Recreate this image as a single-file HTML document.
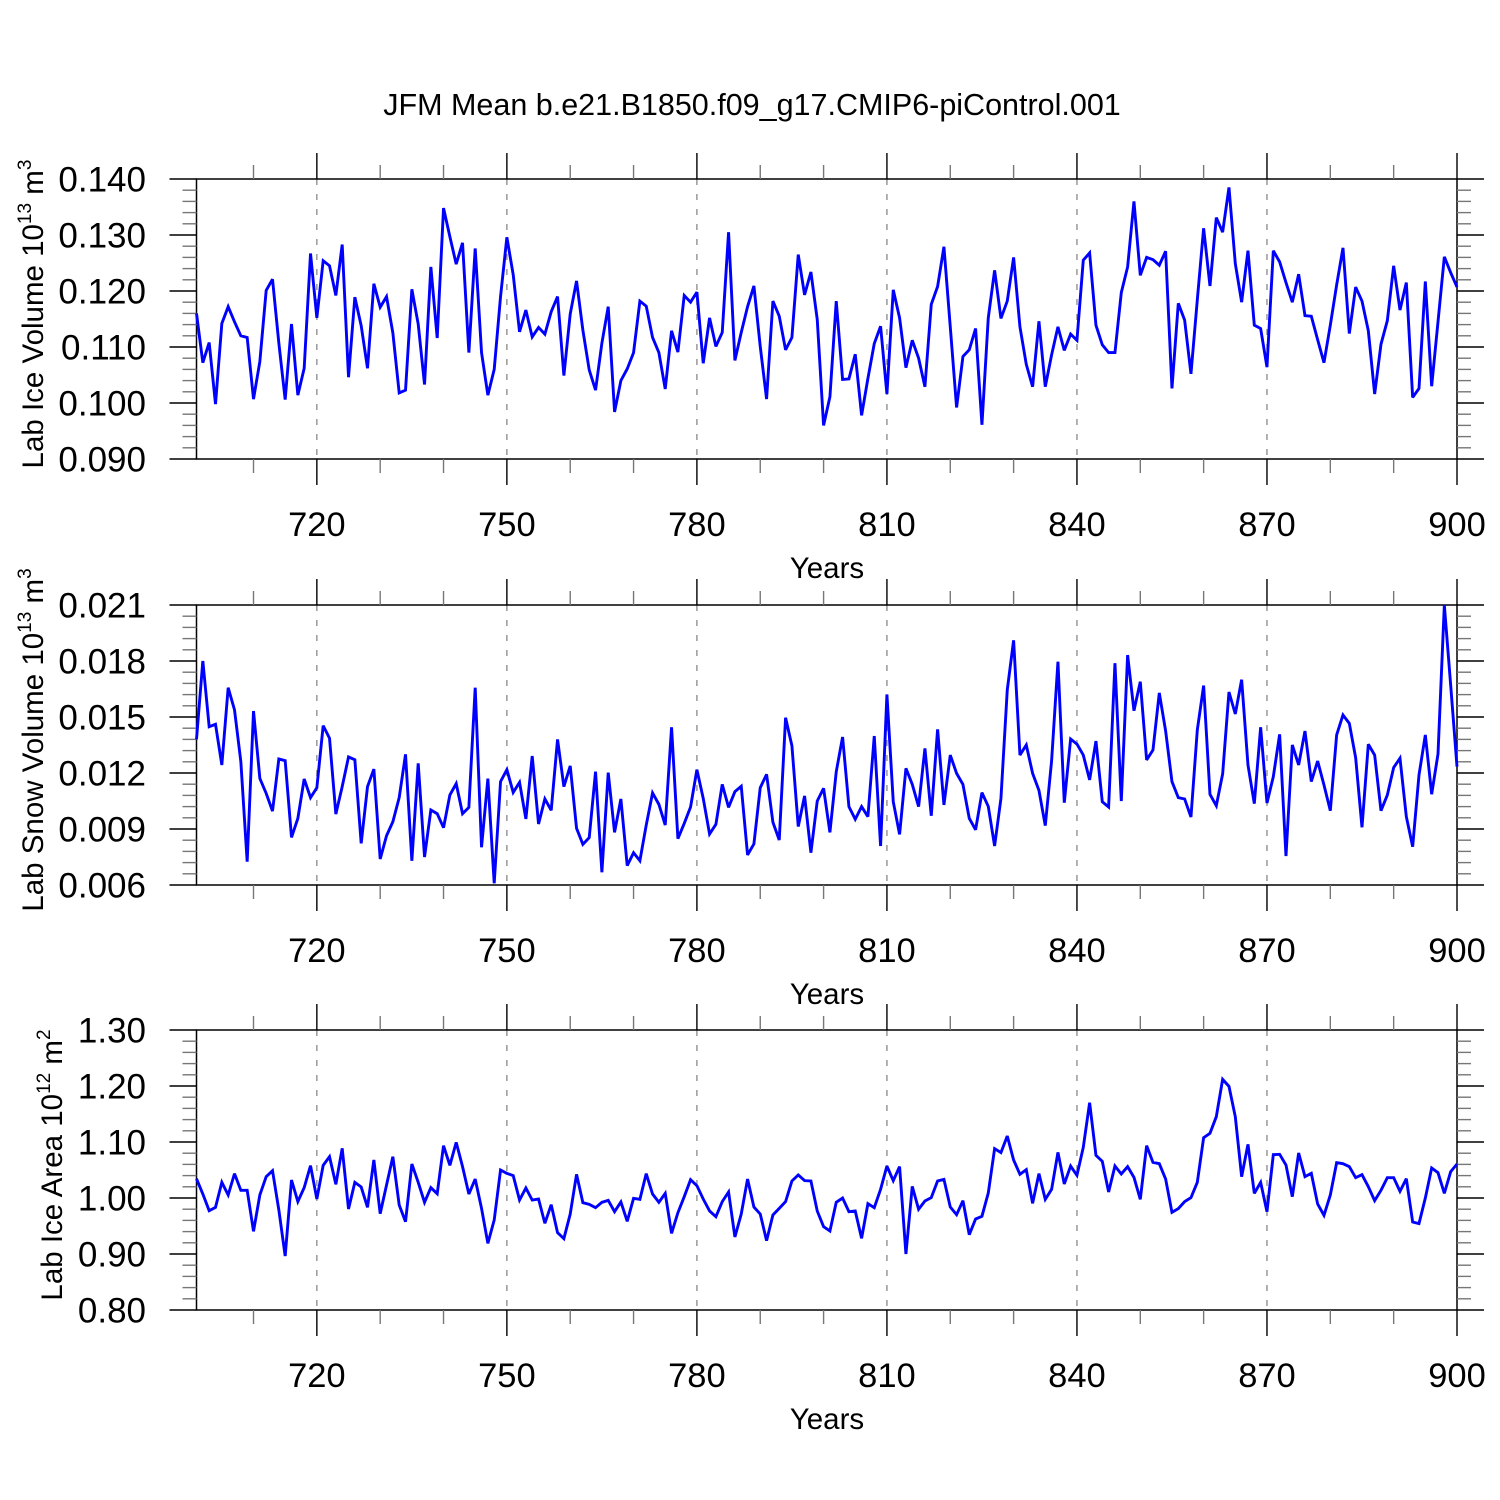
<!DOCTYPE html>
<html><head><meta charset="utf-8"><style>
html,body{margin:0;padding:0;background:#fff;}
svg{display:block;font-family:"Liberation Sans",Arial,sans-serif;}
</style></head><body>
<svg id="chart" width="1500" height="1500" viewBox="0 0 1500 1500" xmlns="http://www.w3.org/2000/svg">
<rect width="1500" height="1500" fill="#fff"/>
<text x="752" y="115" font-size="30.5" text-anchor="middle">JFM Mean b.e21.B1850.f09_g17.CMIP6-piControl.001</text>
</svg>
<script>
const years = [];
for (let y = 701; y <= 900; y++) years.push(y);
const xTickLabels = [720, 750, 780, 810, 840, 870, 900];

const iceVolume = [.116,.1072,.1108,.0998,.1142,.1172,.1145,.1120,.1117,.1007,.1074,.1201,.1221,.1107,.1006,.1141,.1014,.1062,.1267,.1152,
.1254,.1245,.1192,.1283,.1046,.1189,.1138,.1062,.1213,.1171,.1190,.1125,.1018,.1023,.1203,.1141,.1033,.1243,.1116,.1348,
.1297,.1248,.1286,.1090,.1276,.1090,.1014,.1060,.1190,.1296,.1229,.1127,.1166,.1118,.1135,.1123,.1163,.1190,.1049,.1159,
.1218,.1130,.1059,.1023,.1107,.1172,.0984,.1040,.1061,.1090,.1182,.1173,.1117,.1090,.1025,.1129,.1091,.1192,.1180,.1198,
.1071,.1152,.1101,.1126,.1305,.1076,.1126,.1172,.1209,.1101,.1007,.1182,.1155,.1095,.1117,.1265,.1193,.1234,.1149,.0960,
.1011,.1182,.1042,.1043,.1087,.0978,.1044,.1106,.1137,.1016,.1202,.1152,.1063,.1112,.1080,.1029,.1176,.1208,.1279,.1136,
.0992,.1083,.1095,.1133,.0961,.1152,.1237,.1151,.1182,.1260,.1136,.1069,.1029,.1146,.1029,.1086,.1136,.1094,.1123,.1112,
.1255,.1268,.1139,.1104,.1090,.1090,.1197,.1243,.1360,.1228,.1260,.1256,.1246,.1271,.1026,.1178,.1148,.1052,.1184,.1312,
.1209,.1331,.1305,.1385,.1249,.1180,.1272,.1139,.1133,.1064,.1272,.1252,.1215,.1180,.1230,.1156,.1155,.1113,.1072,.1139,
.1211,.1277,.1124,.1207,.1182,.1129,.1016,.1105,.1147,.1245,.1166,.1215,.1010,.1026,.1217,.1030,.1145,.1261,.1233,.1207];

const snowVolume = [.01380,.0180,.01448,.01461,.01243,.01657,.01538,.01261,.00725,.01532,.01171,.01091,.00996,.01275,.01266,.00855,.00957,.01168,.01068,.01121,
.01454,.01386,.00980,.01127,.01286,.01271,.00823,.01127,.01221,.00739,.00864,.00939,.01068,.01300,.00730,.01252,.00750,.01002,.00982,.00907,
.01082,.01143,.00982,.01016,.01657,.00802,.01170,.00609,.01154,.01218,.01096,.01150,.00954,.01291,.00927,.01061,.01000,.01380,.01127,.01238,
.00904,.00818,.00854,.01207,.00668,.01202,.00882,.01061,.00704,.00773,.00730,.00921,.01093,.01032,.00921,.01445,.00848,.00930,.01018,.01218,
.01064,.00873,.00925,.01139,.01016,.01100,.01129,.00761,.00820,.01121,.01193,.00936,.00841,.01496,.01346,.00913,.01077,.00773,.01050,.01118,
.00882,.01207,.01393,.01020,.00952,.01020,.00966,.01398,.00809,.01621,.01046,.00871,.01225,.01139,.01020,.01332,.00971,.01434,.01029,.01296,
.01198,.01139,.00957,.00896,.01095,.01021,.00809,.01064,.01645,.01911,.01296,.01350,.01198,.01107,.00918,.01266,.01796,.01041,.01382,.01355,
.01296,.01163,.01371,.01046,.01018,.01788,.01050,.01832,.01534,.01689,.01270,.01323,.01629,.01425,.01154,.01068,.01061,.00964,.01430,.01668,
.01086,.01025,.01195,.01634,.01516,.01700,.01243,.01036,.01445,.01039,.01180,.01407,.00755,.01350,.01243,.01425,.01154,.01264,.01136,.00998,
.01404,.01511,.01466,.01282,.00909,.01354,.01296,.00998,.01082,.01229,.01279,.00966,.00805,.01189,.01404,.01086,.01302,.02100,.01671,.01234];

const iceArea = [1.0345,1.0071,.9774,.9833,1.0280,1.0054,1.0435,1.0137,1.0137,.9405,1.0054,1.0381,1.0488,.9786,.8964,1.0321,.9935,1.0185,1.0577,.9982,
1.0583,1.0738,1.0244,1.0887,.9804,1.0280,1.0196,.9833,1.0679,.9720,1.0232,1.0738,.9875,.9577,1.0607,1.0280,.9923,1.0185,1.0077,1.0935,
1.0583,1.0994,1.0560,1.0071,1.0339,.9815,.9190,.9607,1.0500,1.0440,1.0399,.9964,1.0179,.9964,.9982,.9548,.9881,.9381,.9274,.9714,
1.0423,.9917,.9887,.9827,.9923,.9958,.9756,.9929,.9583,.9994,.9976,1.0435,1.0071,.9923,1.0083,.9369,.9738,1.0024,1.0327,1.0220,
.9982,.9768,.9667,.9935,1.0107,.9304,.9714,1.0339,.9839,.9714,.9238,.9696,.9815,.9935,1.0304,1.0411,1.0310,1.0304,.9768,.9488,
.9411,.9923,1.0000,.9756,.9768,.9280,.9899,.9827,1.0155,1.0571,1.0310,1.0560,.9000,1.0208,.9798,.9946,1.0006,1.0304,1.0333,.9839,
.9702,.9952,.9345,.9625,.9673,1.0089,1.0881,1.0810,1.1107,1.0679,1.0423,1.0506,.9905,1.0435,.9976,1.0155,1.0815,1.0250,1.0571,1.0405,
1.0905,1.1702,1.0762,1.0655,1.0107,1.0571,1.0429,1.0560,1.0369,.9976,1.0935,1.0637,1.0613,1.0339,.9744,.9810,.9935,1.0006,1.0280,1.1077,
1.1155,1.1452,1.2119,1.1994,1.1452,1.0381,1.0958,1.0083,1.0280,.9756,1.0774,1.0780,1.0589,1.0024,1.0804,1.0381,1.0440,.9893,.9690,1.0054,
1.0631,1.0613,1.0560,1.0363,1.0417,1.0202,.9952,1.0137,1.0363,1.0363,1.0119,1.0345,.9571,.9542,1.0000,1.0536,1.0452,1.0083,1.0470,1.0607];

const panel1Ticks = ["0.140","0.130","0.120","0.110","0.100","0.090"];
const panel2Ticks = ["0.021","0.018","0.015","0.012","0.009","0.006"];
const panel3Ticks = ["1.30","1.20","1.10","1.00","0.90","0.80"];

const NS = "http://www.w3.org/2000/svg";
const svg = document.getElementById("chart");
const X0 = 196.5, X1 = 1457, PH = 280;
const xMin = 701, xMax = 900;
function xScale(yr){ return X0 + (yr - xMin) / (xMax - xMin) * (X1 - X0); }
function mk(tag, attrs, parent){ const e = document.createElementNS(NS, tag); for (const k in attrs) e.setAttribute(k, attrs[k]); (parent||svg).appendChild(e); return e; }

function drawPanel(idx, top, vals, ticks, vmin, vmax, minorStep, titleParts, titleX){
  const g = mk("g", {});
  
  
  const bot = top + PH;
  const yScale = v => top + (vmax - v) / (vmax - vmin) * PH;
  xTickLabels.slice(0, -1).forEach(t => {
    const l = mk("line", {x1:xScale(t), x2:xScale(t), y1:top, y2:bot, stroke:"#888", "stroke-width":1.3, "stroke-dasharray":"6,9"}, g);
    
    
  });
  const fr = mk("rect", {x:X0, y:top, width:X1-X0, height:PH, fill:"none", stroke:"#000", "stroke-width":1.5}, g);
  
  
  const nMinor = Math.round((vmax - vmin) / minorStep);
  for (let i = 0; i <= nMinor; i++) {
    const y = top + i / nMinor * PH;
    const major = i % 5 === 0;
    const len = major ? 27 : 14;
    mk("line", {x1:X0-len, x2:X0, y1:y, y2:y, stroke:major?"#000":"#777", "stroke-width":1.4}, g);
    mk("line", {x1:X1, x2:X1+len, y1:y, y2:y, stroke:major?"#000":"#777", "stroke-width":1.4}, g);
  }
  ticks.forEach((t, i) => {
    const tx = mk("text", {x:146, y:top + i * PH / (ticks.length - 1) + 12.5, "font-size":35, "text-anchor":"end"}, g);
    tx.textContent = t;
    
    
  });
  for (let yr = 710; yr <= 900; yr += 10) {
    const x = xScale(yr);
    const major = (yr - 720) % 30 === 0;
    const len = major ? 26 : 14;
    mk("line", {x1:x, x2:x, y1:top-len, y2:top, stroke:major?"#000":"#777", "stroke-width":1.4}, g);
    mk("line", {x1:x, x2:x, y1:bot, y2:bot+len, stroke:major?"#000":"#777", "stroke-width":1.4}, g);
  }
  xTickLabels.forEach(t => {
    const tx = mk("text", {x:xScale(t), y:top + 357, "font-size":34.5, "text-anchor":"middle"}, g);
    tx.textContent = t;
    
    
  });
  const xt = mk("text", {x:827, y:top + 399, "font-size":29.5, "text-anchor":"middle"}, g);
  xt.textContent = "Years";
  
  
  const cy = top + PH / 2 - 5;
  const yt = mk("text", {x:0, y:0, "font-size":29.5, "text-anchor":"middle", transform:"translate(" + titleX + "," + cy + ") rotate(-90)"}, g);
  
  
  const s1 = mk("tspan", {}, yt); s1.textContent = titleParts[0];
  const s2 = mk("tspan", {dy:-12, "font-size":19}, yt); s2.textContent = titleParts[1];
  const s3 = mk("tspan", {dy:12}, yt); s3.textContent = titleParts[2];
  const s4 = mk("tspan", {dy:-12, "font-size":19}, yt); s4.textContent = titleParts[3];
  const pts = vals.map((v, i) => xScale(years[i]).toFixed(2) + "," + yScale(v).toFixed(2)).join(" ");
  const pl = mk("polyline", {points:pts, fill:"none", stroke:"#0000ff", "stroke-width":2.9, "stroke-linejoin":"miter", "stroke-miterlimit":3}, g);
  
  
}

drawPanel(1, 179, iceVolume, panel1Ticks, 0.090, 0.140, 0.002, ["Lab Ice Volume 10", "13", " m", "3"], 43);
drawPanel(2, 605, snowVolume, panel2Ticks, 0.006, 0.021, 0.0006, ["Lab Snow Volume 10", "13", " m", "3"], 43);
drawPanel(3, 1030, iceArea, panel3Ticks, 0.80, 1.30, 0.02, ["Lab Ice Area 10", "12", " m", "2"], 62);
</script>
</body></html>
